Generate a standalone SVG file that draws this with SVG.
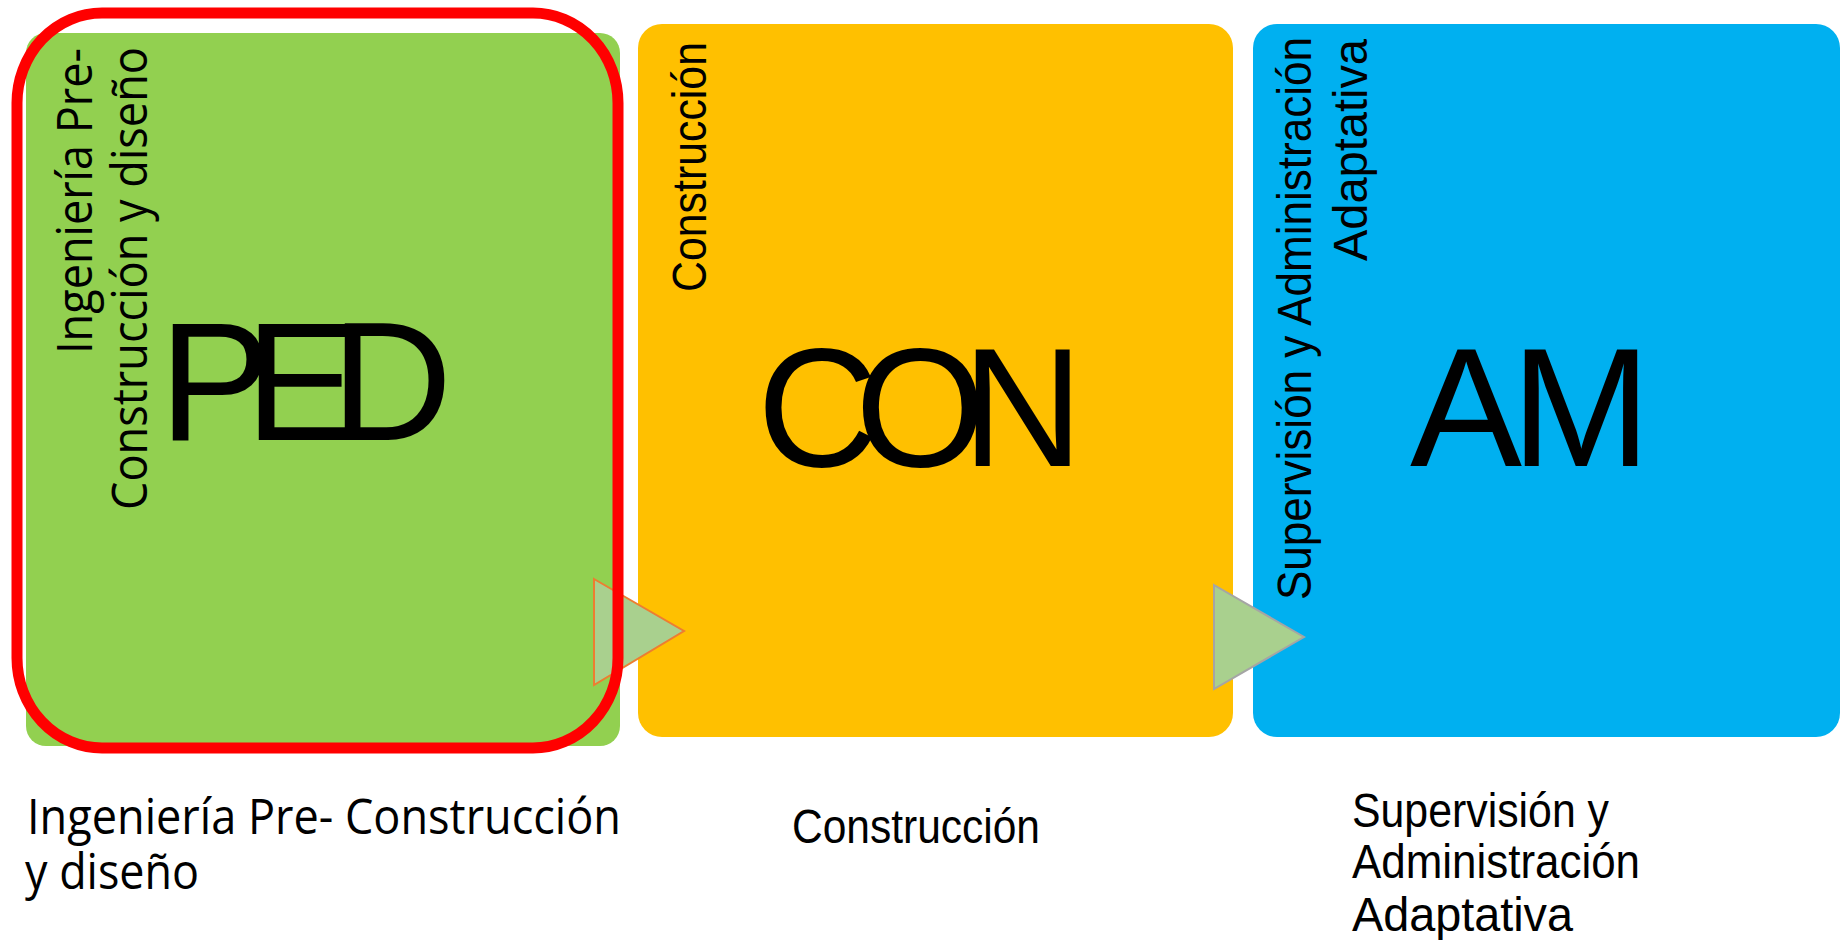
<svg xmlns="http://www.w3.org/2000/svg" width="1842" height="940" viewBox="0 0 1842 940">
<style>
.box{stroke:none}
.big{font-family:"Liberation Sans",Arial,sans-serif;font-size:168px;fill:#000}
.seg{font-family:"Open Sans","Noto Sans",sans-serif;font-size:49px;fill:#000}
.ari{font-family:"Liberation Sans",Arial,sans-serif;font-size:48px;fill:#000}
.tri{fill:#a9d08e;stroke-width:2;stroke-linejoin:miter}
</style>
<rect width="1842" height="940" fill="#fff"/>
<g id="ped">
<rect class="box" x="26" y="33" width="594" height="713" rx="20" fill="#92d050"/>
<text class="big" y="440"><tspan x="159">P</tspan><tspan x="245">E</tspan><tspan x="331">D</tspan></text>
<text class="seg" transform="translate(92,354) rotate(-90)" textLength="306" lengthAdjust="spacingAndGlyphs">Ingeniería Pre-</text>
<text class="seg" transform="translate(147,510) rotate(-90)" textLength="463" lengthAdjust="spacingAndGlyphs">Construcción y diseño</text>
<text class="seg" x="27" y="834" textLength="594" lengthAdjust="spacingAndGlyphs">Ingeniería Pre- Construcción</text>
<text class="seg" x="25" y="889" textLength="174" lengthAdjust="spacingAndGlyphs">y diseño</text>
</g>
<g id="con">
<rect class="box" x="638" y="24" width="595" height="713" rx="24" fill="#ffc000"/>
<text class="big" y="466"><tspan x="757">C</tspan><tspan x="855">O</tspan><tspan x="962">N</tspan></text>
<text class="ari" font-size="49" transform="translate(706,292) rotate(-90)" textLength="250" lengthAdjust="spacingAndGlyphs">Construcción</text>
<text class="ari" x="792" y="843" textLength="248" lengthAdjust="spacingAndGlyphs">Construcción</text>
</g>
<g id="am">
<rect class="box" x="1253" y="24" width="587" height="713" rx="24" fill="#00b0f0"/>
<text class="big" y="466"><tspan x="1410">A</tspan><tspan x="1511">M</tspan></text>
<text class="ari" font-size="49" transform="translate(1311,600) rotate(-90)" textLength="563" lengthAdjust="spacingAndGlyphs">Supervisión y Administración</text>
<text class="ari" font-size="49" transform="translate(1367,261) rotate(-90)" textLength="222" lengthAdjust="spacingAndGlyphs">Adaptativa</text>
<text class="ari" x="1352" y="827" textLength="257" lengthAdjust="spacingAndGlyphs">Supervisión y</text>
<text class="ari" x="1352" y="878" textLength="288" lengthAdjust="spacingAndGlyphs">Administración</text>
<text class="ari" x="1352" y="931" textLength="221" lengthAdjust="spacingAndGlyphs">Adaptativa</text>
</g>
<g id="connectors">
<polygon class="tri" points="594,579 684,631 594,685" stroke="#ed7d31"/>
<polygon class="tri" points="1214,585 1304,637 1214,689" stroke="#a5a5a5"/>
</g>
<g id="highlight">
<rect x="17" y="13" width="601" height="735" rx="85" ry="90" fill="none" stroke="#ff0000" stroke-width="11"/>
</g>
</svg>
